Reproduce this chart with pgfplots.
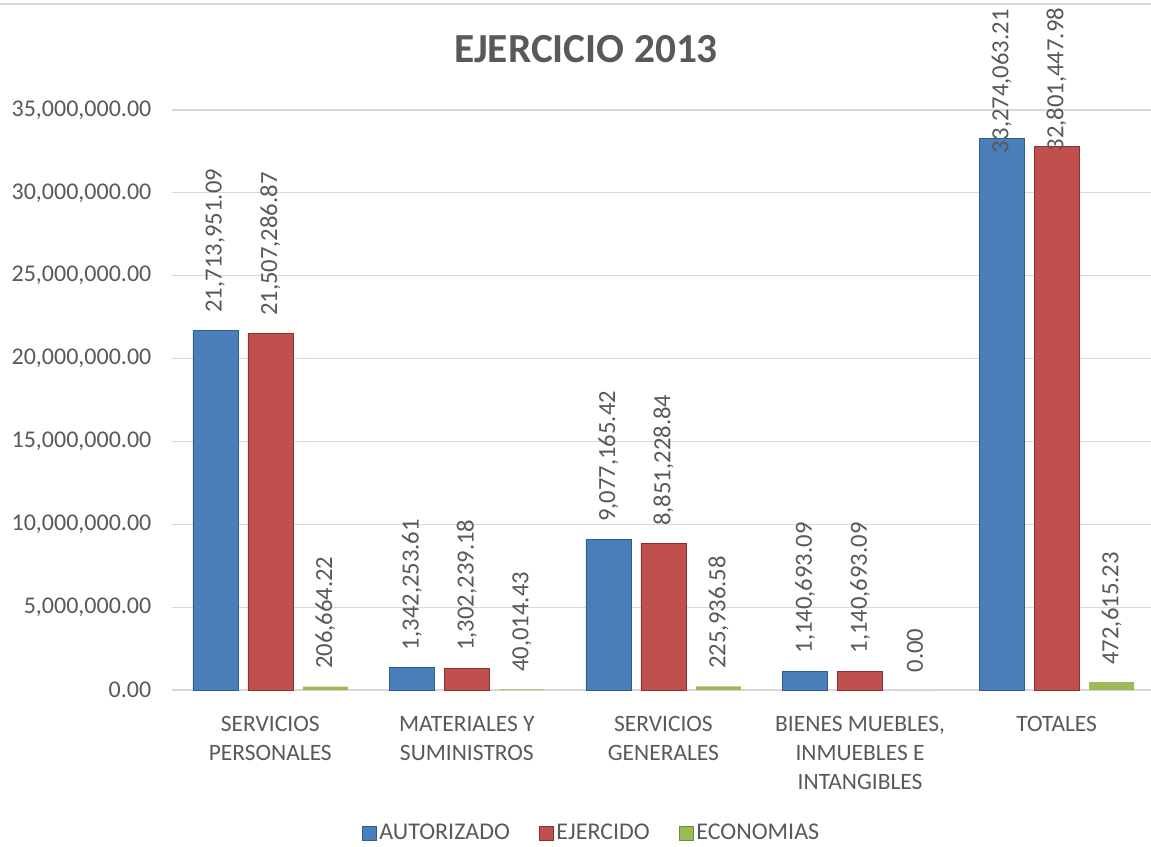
\documentclass[border=0pt]{standalone}
\usepackage{pgfplots}
\pgfplotsset{compat=1.18}
\usepackage{pgfplotstable}
\usepackage{fontspec}
\setmainfont{Carlito}

\definecolor{txt}{HTML}{595959}
\definecolor{gridc}{HTML}{D9D9D9}
\definecolor{bluebar}{HTML}{4A7EBB}
\definecolor{bluedark}{HTML}{2F5D93}
\definecolor{redbar}{HTML}{C0504D}
\definecolor{reddark}{HTML}{8E302D}
\definecolor{greenbar}{HTML}{9BBB59}
\definecolor{greendark}{HTML}{71893E}

% label shifts (sh, pt) move the totals labels down into the bars like Excel does
\pgfplotstableread{
x y lab sh
0 21713951.09 21,713,951.09 0
1 1342253.61 1,342,253.61 0
2 9077165.42 9,077,165.42 0
3 1140693.09 1,140,693.09 0
4 33274063.21 33,274,063.21 -24
}\autorizado

\pgfplotstableread{
x y lab sh
0 21507286.87 21,507,286.87 0
1 1302239.18 1,302,239.18 0
2 8851228.84 8,851,228.84 0
3 1140693.09 1,140,693.09 0
4 32801447.98 32,801,447.98 -17
}\ejercido

\pgfplotstableread{
x y lab sh
0 206664.22 206,664.22 0
1 40014.43 40,014.43 0
2 225936.58 225,936.58 0
3 0 0.00 0
4 472615.23 472,615.23 0
}\economias

\begin{document}
\begin{tikzpicture}
\begin{axis}[
    ybar,
    scale only axis,
    width=734.25pt,
    height=435pt,
    xmin=-0.5, xmax=4.48,
    ymin=0, ymax=35000000,
    clip=false,
    axis line style={draw=none},
    major tick length=0pt,
    ytick={0,5000000,...,35000000},
    ymajorgrids=true,
    grid style={gridc, line width=0.8pt},
    scaled y ticks=false,
    yticklabel style={/pgf/number format/fixed, /pgf/number format/fixed zerofill,
        /pgf/number format/precision=2, /pgf/number format/1000 sep={,},
        /pgf/number format/assume math mode=true,
        font=\fontsize{18}{21}\selectfont, text=txt, xshift=-12pt},
    xtick={0,1,2,3,4},
    xticklabels={SERVICIOS\\PERSONALES, MATERIALES Y\\SUMINISTROS, SERVICIOS\\GENERALES, {BIENES MUEBLES,\\INMUEBLES E\\INTANGIBLES}, TOTALES},
    xticklabel style={align=center, font=\fontsize{17.6}{21.75}\selectfont, text=txt, yshift=-16pt},
    nodes near coords,
    point meta=explicit symbolic,
    visualization depends on={\thisrow{sh} \as \lsh},
    every node near coord/.append style={rotate=90, anchor=west, inner xsep=13pt,
        xshift=\lsh pt, font=\fontsize{18.5}{21}\selectfont, text=txt},
    legend style={at={(axis description cs:0.429,-0.2466)}, anchor=center,
        draw=none, legend columns=3, font=\fontsize{18}{21}\selectfont, text=txt,
        /tikz/every even column/.append style={column sep=20pt}},
]

\addplot[bar width=33.75pt, bar shift=-41.25pt, draw=bluedark, fill=bluebar,
    legend image code/.code={\filldraw[fill=bluebar, draw=bluedark] (0pt,-5.25pt) rectangle (10.5pt,5.25pt);}]
    table[x=x, y=y, meta=lab] {\autorizado};
\addlegendentry{AUTORIZADO}

\addplot[bar width=33.75pt, bar shift=0pt, draw=reddark, fill=redbar,
    legend image code/.code={\filldraw[fill=redbar, draw=reddark] (0pt,-5.25pt) rectangle (10.5pt,5.25pt);}]
    table[x=x, y=y, meta=lab] {\ejercido};
\addlegendentry{EJERCIDO}

\addplot[bar width=33.75pt, bar shift=41.25pt, draw=none, fill=greenbar,
    legend image code/.code={\filldraw[fill=greenbar, draw=greendark] (0pt,-5.25pt) rectangle (10.5pt,5.25pt);}]
    table[x=x, y=y, meta=lab] {\economias};
\addlegendentry{ECONOMIAS}

\end{axis}
\coordinate (O) at (current axis.south west);
\node[font=\fontsize{31}{36}\selectfont\bfseries, text=txt] at ([shift={(310.5pt,480.75pt)}]O) {EJERCICIO 2013};
\draw[gridc, line width=1pt] ([shift={(-129pt,514.5pt)}]O) -- ++(863.25pt,0);
\pgfresetboundingbox
\path ([shift={(-129pt,-117pt)}]O) rectangle ++(863.25pt,634.5pt);
\end{tikzpicture}
\end{document}
